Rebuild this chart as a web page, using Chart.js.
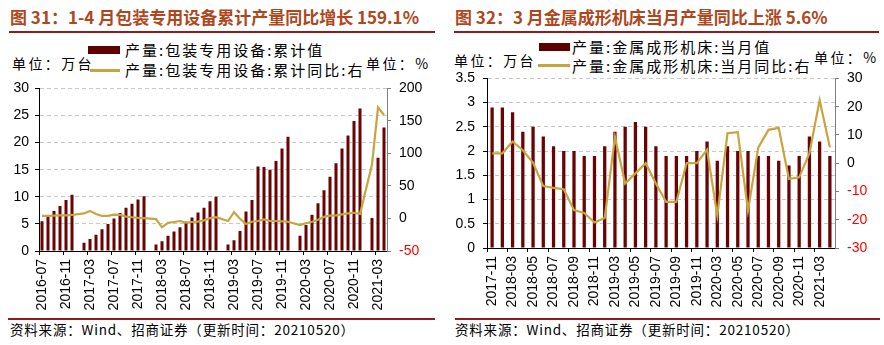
<!DOCTYPE html>
<html>
<head>
<meta charset="utf-8">
<script src="https://cdn.jsdelivr.net/npm/chart.js@4.4.0/dist/chart.umd.min.js"></script>
<style>
  body { margin: 0; background: #fff; width: 884px; height: 345px; position: relative; overflow: hidden; }
  .t { position: absolute; white-space: nowrap; font-family: "Noto Sans CJK SC", sans-serif; line-height: 1; }
  .title { font-size: 17px; font-weight: bold; color: #b0461c; }
  .rule { position: absolute; height: 2px; background: #921a1a; }
  .leg { font-size: 15px; color: #000; letter-spacing: 2px; }
  .unit { font-size: 14px; color: #000; letter-spacing: 2.4px; }
  .src { font-size: 13.5px; color: #000; letter-spacing: 0.8px; }
  .sw { position: absolute; }
  canvas { position: absolute; }
</style>
</head>
<body>
<div class="t title" style="left:10px;top:8px;">图 31：1-4 月包装专用设备累计产量同比增长 159.1%</div>
<div class="rule" style="left:9px;top:31px;width:426px;"></div>
<div class="sw" style="left:88px;top:46px;width:32px;height:8px;background:#5f0000;"></div>
<div class="t leg" style="left:125px;top:42px;">产量:包装专用设备:累计值</div>
<div class="sw" style="left:90px;top:69px;width:30px;height:3px;background:#c9a43e;"></div>
<div class="t leg" style="left:125px;top:62px;">产量:包装专用设备:累计同比:右</div>
<div class="t unit" style="left:12px;top:56px;">单位：万台</div>
<div class="t unit" style="left:366px;top:56px;">单位：%</div>
<canvas id="c1" width="442" height="246" style="left:0;top:72px;"></canvas>
<div class="rule" style="left:8px;top:318px;width:427px;"></div>
<div class="t src" style="left:10px;top:323px;">资料来源：Wind、招商证券（更新时间：20210520）</div>

<div class="t title" style="left:455px;top:8px;">图 32：3 月金属成形机床当月产量同比上涨 5.6%</div>
<div class="rule" style="left:454px;top:31px;width:425px;"></div>
<div class="sw" style="left:539px;top:43px;width:31px;height:8px;background:#5f0000;"></div>
<div class="t leg" style="left:572px;top:39px;">产量:金属成形机床:当月值</div>
<div class="sw" style="left:538px;top:64px;width:32px;height:3px;background:#c9a43e;"></div>
<div class="t leg" style="left:572px;top:58px;">产量:金属成形机床:当月同比:右</div>
<div class="t unit" style="left:454px;top:53px;">单位：万台</div>
<div class="t unit" style="left:814px;top:50px;">单位：%</div>
<canvas id="c2" width="442" height="256" style="left:442px;top:62px;"></canvas>
<div class="rule" style="left:455px;top:318px;width:425px;"></div>
<div class="t src" style="left:455px;top:323px;">资料来源：Wind、招商证券（更新时间：20210520）</div>

<script>
// chart 31: 包装专用设备
const months1 = [
  "2016-07","2016-08","2016-09","2016-10","2016-11","2016-12",
  "2017-01","2017-02","2017-03","2017-04","2017-05","2017-06","2017-07","2017-08","2017-09","2017-10","2017-11","2017-12",
  "2018-01","2018-02","2018-03","2018-04","2018-05","2018-06","2018-07","2018-08","2018-09","2018-10","2018-11","2018-12",
  "2019-01","2019-02","2019-03","2019-04","2019-05","2019-06","2019-07","2019-08","2019-09","2019-10","2019-11","2019-12",
  "2020-01","2020-02","2020-03","2020-04","2020-05","2020-06","2020-07","2020-08","2020-09","2020-10","2020-11","2020-12",
  "2021-01","2021-02","2021-03","2021-04"
];
const cumValue = [
  5.5, 6.3, 7.4, 8.3, 9.4, 10.4,
  null, 1.5, 2.2, 3.0, 4.0, 5.0, 6.0, 7.0, 8.0, 8.7, 9.5, 10.1,
  null, 1.2, 1.8, 2.8, 3.6, 4.4, 5.4, 6.2, 7.1, 8.0, 9.2, 10.0,
  null, 1.2, 2.0, 3.7, 7.3, 9.4, 15.6, 15.5, 15.0, 16.6, 18.9, 21.1,
  null, 2.8, 4.8, 6.7, 8.8, 11.2, 13.7, 16.2, 18.9, 21.3, 24.0, 26.3,
  null, 6.1, 17.2, 22.8
];
const cumYoy = [
  3.9, 3.9, 4.4, 4.9, 4.9, 5.4,
  null, 7.8, 11.7, 6.8, 3.9, 3.9, 5.8, 5.4, 2.9, 1.9, 1.0, 0.5,
  null, -1.0, -13.6, -6.8, -5.4, -3.9, -6.3, -5.4, -4.9, -2.9, 0.5, 1.9,
  null, -3.9, 9.7, -0.5, -8.5, -5.0, -3.9, -1.5, -3.9, -3.9, -4.4, -5.0,
  null, -10.2, -7.3, -5.0, -2.0, 2.4, 4.4, 4.9, 6.3, 7.8, 8.8, 6.8,
  null, 82.8, 171.0, 159.1
];

// chart 32: 金属成形机床
const months2 = [
  "2017-11","2017-12",
  "2018-03","2018-04","2018-05","2018-06","2018-07","2018-08","2018-09","2018-10","2018-11","2018-12",
  "2019-03","2019-04","2019-05","2019-06","2019-07","2019-08","2019-09","2019-10","2019-11","2019-12",
  "2020-03","2020-04","2020-05","2020-06","2020-07","2020-08","2020-09","2020-10","2020-11","2020-12",
  "2021-03","2021-04"
];
const monthValue = [
  2.9, 2.9,
  2.8, 2.4, 2.5, 2.3, 2.1, 2.0, 2.0, 1.9, 1.9, 2.1,
  2.4, 2.5, 2.6, 2.5, 2.1, 1.9, 1.9, 1.9, 2.0, 2.2,
  1.8, 2.1, 2.0, 2.0, 1.9, 1.9, 1.8, 1.7, 1.9, 2.3,
  2.2, 1.9
];
const monthYoy = [
  3.5, 3.5,
  7.7, 4.6, 0.1, -8.1, -8.7, -9.2, -16.6, -17.6, -21.0, -19.4,
  9.3, -7.2, -3.6, 0.0, -7.2, -13.7, -13.7, 0.0, 0.0, 4.8,
  -18.5, 10.6, 11.0, -16.8, 5.5, 11.8, 12.5, -5.6, -5.0, 3.5,
  22.3, 5.6
];

const BAR = "#6a0404";
const GOLD = "#c9a43e";
const tickFont = { family: "'Liberation Sans', Arial, sans-serif", size: 14 };

function makeChart(id, labels, bars, line, opts) {
  return new Chart(document.getElementById(id), {
    type: "bar",
    data: {
      labels: labels,
      datasets: [
        {
          type: "line",
          data: line,
          yAxisID: "y1",
          borderColor: GOLD,
          borderWidth: 2.2,
          pointRadius: 0,
          tension: 0,
          spanGaps: true,
          order: 0,
        },
        {
          type: "bar",
          data: bars,
          yAxisID: "y",
          backgroundColor: BAR,
          barPercentage: opts.barPct,
          categoryPercentage: 1,
          order: 1,
        },
      ],
    },
    options: {
      responsive: false,
      animation: false,
      devicePixelRatio: 1,
      layout: { padding: { top: 8, left: 0, right: 0, bottom: 0 } },
      plugins: { legend: { display: false }, tooltip: { enabled: false } },
      scales: {
        x: {
          offset: true,
          afterFit: s => { s.height = opts.xH; },
          grid: {
            drawOnChartArea: false,
            drawTicks: true,
            tickLength: 4,
            tickColor: c => (c.index % opts.every === 0 ? "#000" : "rgba(0,0,0,0)"),
          },
          border: { color: "#000", width: 1 },
          ticks: {
            autoSkip: false,
            maxRotation: 90,
            minRotation: 90,
            padding: 4,
            color: "#000",
            font: tickFont,
            callback: (v, i) => (i % opts.every === 0 ? labels[i] : ""),
          },
        },
        y: {
          position: "left",
          min: opts.yMin, max: opts.yMax,
          afterFit: s => { s.width = opts.yW; },
          ticks: { stepSize: opts.yStep, color: "#000", font: tickFont, padding: opts.yPad, callback: v => v },
          grid: { color: "#c8c8c8", tickColor: "#000", tickLength: 4, drawTicks: true },
          border: { color: "#000", width: 1, dash: [4, 3] },
        },
        y1: {
          position: "right",
          min: opts.y1Min, max: opts.y1Max,
          afterFit: s => { s.width = opts.y1W; },
          ticks: {
            stepSize: opts.y1Step,
            font: tickFont,
            padding: 8,
            color: c => (c.tick.value < 0 ? "#ff0000" : "#000"),
            callback: v => v,
          },
          grid: { drawOnChartArea: false, tickColor: "#808080", tickLength: 4 },
          border: { color: "#808080", width: 1 },
        },
      },
    },
  });
}

makeChart("c1", months1, cumValue, cumYoy, {
  barPct: 0.5, every: 4, xH: 67, yW: 39, y1W: 55,
  yMin: 0, yMax: 30, yStep: 5, yPad: 6,
  y1Min: -50, y1Max: 200, y1Step: 50,
});

makeChart("c2", months2, monthValue, monthYoy, {
  barPct: 0.32, every: 2, xH: 70, yW: 45, y1W: 49,
  yMin: 0, yMax: 3.5, yStep: 0.5, yPad: 8,
  y1Min: -30, y1Max: 30, y1Step: 10,
});
</script>
</body>
</html>
